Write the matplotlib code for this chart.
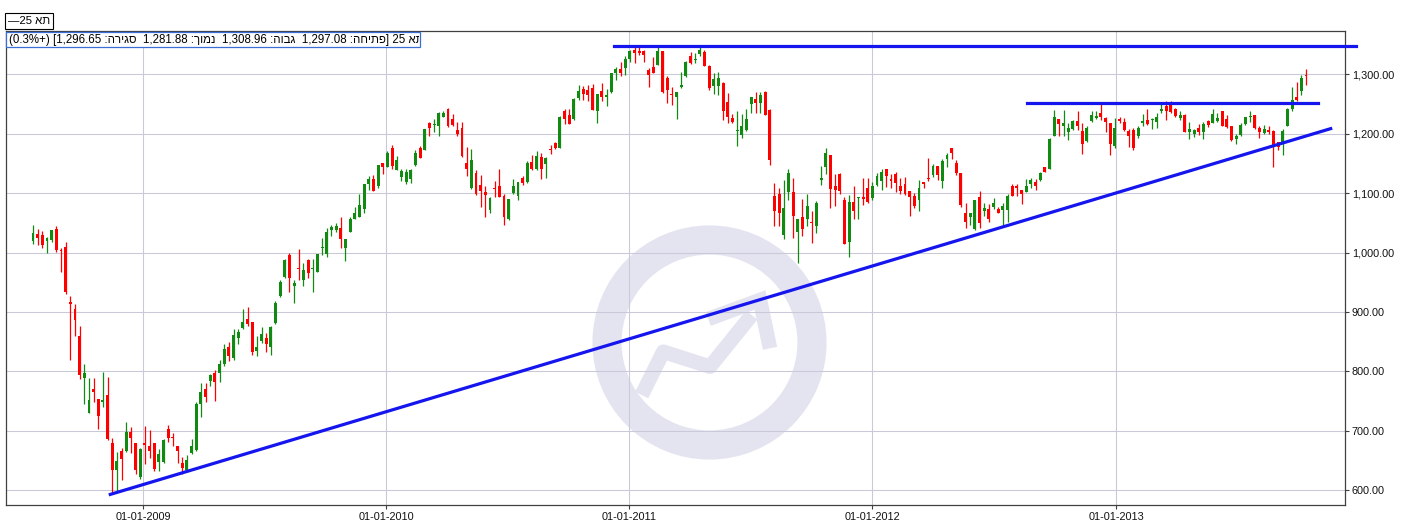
"""
TA-25 weekly candlestick chart, mid 2008 - late 2013,
with a rising support line and two horizontal resistance lines.
"""
import numpy as np
import pandas as pd
import matplotlib
matplotlib.use('Agg')
import matplotlib.pyplot as plt
import matplotlib.dates as mdates
from matplotlib.patches import Ellipse, Rectangle
from matplotlib.lines import Line2D
from matplotlib.ticker import FuncFormatter
from matplotlib.transforms import Bbox, TransformedBbox

plt.rcParams['font.family'] = ['Liberation Sans', 'DejaVu Sans']

# weekly candles (first week starts 2008-07-20)
first_week = '2008-07-20'
opens = [1020, 1031, 1029, 1020, 1021, 1039, 1005, 1009, 916, 905, 859, 789, 730, 770, 753, 748, 760, 680, 634, 666,
         666, 699, 680, 623, 680, 674, 680, 648, 648, 703, 690, 675, 646, 634, 663, 668, 745, 770, 784, 798,
         797, 812, 842, 822, 857, 873, 888, 883, 834, 851, 856, 841, 881, 927, 959, 996, 944, 973, 954, 987,
         972, 968, 1008, 997, 1038, 1038, 1041, 1008, 1035, 1057, 1060, 1073, 1115, 1124, 1112, 1151, 1144, 1175, 1139, 1127,
         1119, 1123, 1147, 1175, 1173, 1217, 1215, 1213, 1228, 1241, 1224, 1206, 1210, 1151, 1108, 1133, 1113, 1101, 1072, 1109,
         1111, 1095, 1057, 1100, 1095, 1126, 1119, 1152, 1141, 1161, 1149, 1173, 1184, 1176, 1238, 1231, 1225, 1259, 1274, 1273,
         1277, 1237, 1271, 1261, 1269, 1302, 1308, 1310, 1325, 1341, 1339, 1338, 1306, 1312, 1315, 1339, 1294, 1267, 1261, 1279,
         1297, 1331, 1323, 1334, 1337, 1314, 1280, 1280, 1285, 1253, 1226, 1205, 1197, 1206, 1250, 1258, 1252, 1269, 1240, 1095,
         1099, 1029, 1101, 1101, 1034, 1059, 1056, 1051, 1045, 1122, 1143, 1164, 1111, 1132, 1088, 1018, 1085, 1091, 1094, 1108,
         1091, 1113, 1121, 1141, 1124, 1132, 1111, 1115, 1103, 1095, 1089, 1118, 1125, 1130, 1145, 1121, 1157, 1175, 1151, 1133,
         1066, 1060, 1039, 1094, 1069, 1073, 1077, 1073, 1071, 1072, 1111, 1111, 1105, 1102, 1115, 1119, 1122, 1143, 1141, 1196,
         1224, 1212, 1203, 1208, 1221, 1205, 1187, 1221, 1226, 1235, 1226, 1217, 1179, 1224, 1220, 1205, 1206, 1195, 1218, 1223,
         1222, 1220, 1238, 1247, 1248, 1241, 1226, 1231, 1203, 1200, 1210, 1203, 1221, 1218, 1221, 1237, 1224, 1212, 1191, 1198,
         1216, 1228, 1231, 1209, 1201, 1206, 1205, 1185, 1185, 1213, 1241, 1261, 1272, 1297.08]
highs = [1046, 1040, 1036, 1026, 1038, 1044, 1007, 1017, 927, 914, 876, 813, 789, 789, 753, 799, 790, 688, 664, 672,
         715, 706, 680, 672, 708, 702, 680, 670, 686, 710, 696, 675, 656, 659, 686, 748, 781, 781, 795, 803,
         820, 846, 849, 871, 871, 905, 908, 883, 860, 875, 864, 877, 919, 954, 989, 1000, 954, 1006, 982, 989,
         989, 998, 1024, 1041, 1047, 1050, 1059, 1023, 1060, 1077, 1099, 1115, 1129, 1130, 1147, 1151, 1171, 1181, 1162, 1141,
         1140, 1141, 1173, 1179, 1208, 1219, 1224, 1236, 1237, 1243, 1233, 1220, 1219, 1177, 1174, 1138, 1130, 1112, 1094, 1121,
         1140, 1099, 1090, 1124, 1119, 1129, 1154, 1164, 1171, 1168, 1161, 1181, 1186, 1229, 1241, 1241, 1259, 1281, 1280, 1281,
         1284, 1266, 1285, 1274, 1302, 1312, 1320, 1330, 1341, 1345, 1346, 1341, 1310, 1328, 1348, 1339, 1296, 1278, 1269, 1304,
         1322, 1337, 1335, 1346, 1340, 1315, 1302, 1303, 1287, 1268, 1233, 1237, 1233, 1241, 1261, 1270, 1269, 1272, 1242, 1116,
         1108, 1122, 1140, 1125, 1057, 1090, 1098, 1069, 1087, 1145, 1176, 1164, 1132, 1133, 1094, 1096, 1112, 1094, 1126, 1126,
         1118, 1134, 1141, 1141, 1132, 1135, 1126, 1127, 1104, 1100, 1122, 1119, 1159, 1148, 1145, 1157, 1167, 1176, 1155, 1133,
         1084, 1067, 1089, 1103, 1084, 1082, 1091, 1077, 1084, 1098, 1115, 1115, 1105, 1123, 1126, 1123, 1136, 1144, 1193, 1240,
         1224, 1240, 1218, 1223, 1237, 1217, 1213, 1238, 1238, 1249, 1227, 1217, 1226, 1227, 1226, 1207, 1209, 1213, 1233, 1242,
         1226, 1235, 1250, 1254, 1254, 1243, 1238, 1232, 1220, 1207, 1216, 1220, 1223, 1241, 1234, 1238, 1231, 1213, 1199, 1217,
         1228, 1238, 1231, 1213, 1214, 1213, 1206, 1186, 1207, 1243, 1279, 1286, 1299, 1308.96]
lows = [1015, 1012, 1008, 1000, 1018, 1001, 968, 931, 820, 859, 788, 745, 730, 748, 703, 740, 685, 595, 597, 617,
        664, 663, 628, 620, 645, 654, 633, 632, 647, 682, 674, 647, 628, 631, 661, 667, 723, 749, 776, 750,
        782, 809, 817, 819, 846, 872, 876, 828, 826, 848, 833, 828, 880, 926, 957, 933, 915, 954, 943, 957,
        933, 967, 995, 993, 1027, 1035, 1008, 985, 1034, 1056, 1059, 1067, 1105, 1104, 1109, 1132, 1143, 1141, 1138, 1121,
        1115, 1116, 1146, 1158, 1172, 1196, 1203, 1196, 1228, 1211, 1213, 1195, 1160, 1129, 1107, 1097, 1077, 1060, 1067, 1094,
        1093, 1046, 1054, 1099, 1088, 1114, 1117, 1139, 1138, 1123, 1126, 1165, 1174, 1175, 1216, 1216, 1223, 1256, 1256, 1255,
        1239, 1218, 1255, 1246, 1268, 1290, 1297, 1299, 1321, 1319, 1332, 1321, 1279, 1301, 1315, 1268, 1251, 1248, 1225, 1277,
        1295, 1316, 1319, 1331, 1313, 1273, 1266, 1265, 1223, 1218, 1217, 1179, 1192, 1205, 1234, 1234, 1234, 1231, 1147, 1045,
        1045, 1022, 1088, 1025, 982, 1027, 1044, 1016, 1033, 1113, 1132, 1074, 1079, 1099, 1014, 993, 1057, 1057, 1080, 1083,
        1089, 1112, 1105, 1110, 1108, 1102, 1098, 1097, 1062, 1074, 1070, 1108, 1121, 1127, 1122, 1108, 1143, 1157, 1130, 1076,
        1041, 1046, 1037, 1041, 1061, 1051, 1073, 1066, 1043, 1052, 1095, 1095, 1081, 1101, 1108, 1105, 1120, 1135, 1140, 1195,
        1195, 1196, 1189, 1206, 1206, 1166, 1186, 1220, 1224, 1223, 1203, 1164, 1175, 1217, 1205, 1178, 1172, 1193, 1213, 1214,
        1207, 1210, 1234, 1223, 1235, 1228, 1223, 1202, 1190, 1194, 1198, 1190, 1211, 1217, 1220, 1212, 1209, 1188, 1182, 1196,
        1214, 1220, 1207, 1193, 1200, 1200, 1144, 1172, 1164, 1212, 1238, 1255, 1265, 1281.88]
closes = [1032, 1025, 1013, 1025, 1038, 1005, 1002, 933, 913, 886, 794, 798, 752, 765, 725, 752, 686, 634, 650, 653,
          699, 688, 635, 670, 677, 667, 636, 662, 685, 688, 689, 667, 638, 651, 675, 745, 766, 757, 794, 782,
          813, 838, 826, 861, 866, 883, 879, 832, 842, 863, 847, 874, 915, 950, 987, 957, 949, 972, 971, 965,
          973, 997, 1009, 1034, 1043, 1045, 1022, 1023, 1056, 1067, 1080, 1115, 1124, 1104, 1147, 1144, 1168, 1145, 1155, 1137,
          1135, 1138, 1167, 1159, 1207, 1209, 1216, 1234, 1235, 1213, 1215, 1200, 1163, 1141, 1155, 1099, 1104, 1097, 1092, 1106,
          1094, 1060, 1090, 1112, 1119, 1116, 1151, 1140, 1163, 1140, 1159, 1172, 1175, 1227, 1224, 1216, 1258, 1272, 1267, 1265,
          1239, 1266, 1262, 1264, 1301, 1308, 1302, 1326, 1338, 1335, 1336, 1332, 1299, 1302, 1338, 1270, 1273, 1264, 1269, 1281,
          1321, 1318, 1326, 1341, 1314, 1276, 1291, 1294, 1238, 1228, 1219, 1206, 1212, 1224, 1261, 1252, 1265, 1231, 1155, 1069,
          1066, 1074, 1133, 1062, 1057, 1039, 1078, 1049, 1084, 1125, 1168, 1106, 1105, 1103, 1015, 1085, 1070, 1093, 1090, 1085,
          1112, 1129, 1136, 1129, 1121, 1117, 1103, 1098, 1093, 1079, 1109, 1115, 1123, 1145, 1130, 1154, 1164, 1168, 1134, 1080,
          1051, 1066, 1089, 1049, 1075, 1056, 1084, 1067, 1079, 1095, 1095, 1108, 1099, 1111, 1122, 1112, 1133, 1136, 1190, 1227,
          1216, 1217, 1210, 1221, 1212, 1182, 1210, 1231, 1230, 1228, 1220, 1182, 1210, 1221, 1206, 1196, 1175, 1210, 1221, 1216,
          1224, 1227, 1242, 1238, 1236, 1230, 1231, 1203, 1207, 1206, 1202, 1216, 1214, 1233, 1226, 1213, 1211, 1189, 1196, 1215,
          1227, 1230, 1209, 1203, 1207, 1202, 1179, 1178, 1205, 1241, 1256, 1257, 1293, 1296.65]

# drawn trend lines
support_dates = ['2008-11-13', '2013-11-19']
support_values = [593.4, 1208.2]
top_dates = ['2010-12-09', '2013-12-27']
top_values = [1347, 1347]
neck_dates = ['2012-08-20', '2013-10-31']
neck_values = [1251, 1251]

name = 'תא'  # ta-25


def vis(s):
    # matplotlib has no bidi, so hebrew words go in visual order
    return s[::-1]


W, H = 1421, 521
GREEN = '#118a11'
RED = '#ff0000'
BLUE = '#1515ee'
MARK = '#e4e4f1'


def fx(px):
    return px / W


def fy(py):
    return 1 - py / H


fig = plt.figure(figsize=(W / 100, H / 100), dpi=100)
ax = fig.add_axes([fx(5.7), fy(505), (1345 - 5.7) / W, (505 - 31) / H])

# background logo
ring = Ellipse((fx(709.5), fy(342.5)), 2 * 102.5 / W, 2 * 102.5 / H, fill=False,
               lw=21, ec=MARK, transform=fig.transFigure, zorder=0.3)
ax.add_artist(ring)
zig = Line2D([fx(641.7), fx(663.3), fx(710), fx(751.7)], [fy(395), fy(351.7), fy(366.7), fy(315)],
             lw=10.5, color=MARK, solid_joinstyle='round', solid_capstyle='butt',
             transform=fig.transFigure, zorder=0.3)
ax.add_artist(zig)
head = Line2D([fx(708.3), fx(760), fx(770)], [fy(319), fy(300), fy(348.3)],
              lw=10.5, color=MARK, solid_joinstyle='miter', solid_capstyle='butt',
              transform=fig.transFigure, zorder=0.3)
ax.add_artist(head)

# candles
dates = pd.date_range(first_week, periods=len(closes), freq='7D')
x = mdates.date2num(dates)
o = np.array(opens, dtype=float)
c = np.array(closes, dtype=float)
up = c >= o
colors = np.where(up, GREEN, RED)
ax.vlines(x, lows, highs, colors=colors, lw=0.9, zorder=2)
ax.bar(x, np.maximum(np.abs(c - o), 1.6), bottom=np.minimum(o, c), width=4.4,
       color=colors, linewidth=0, zorder=3)

# trend lines
ax.plot(pd.to_datetime(support_dates), support_values, color=BLUE, lw=2.3, zorder=4)
ax.plot(pd.to_datetime(neck_dates), neck_values, color=BLUE, lw=2.3, zorder=4)
ax.plot(pd.to_datetime(top_dates), top_values, color=BLUE, lw=2.3, zorder=4, clip_on=False)

ax.set_xlim(pd.Timestamp('2008-06-09'), pd.Timestamp('2013-12-10 12:00'))
ax.set_ylim(575.6, 1372.3)

ax.xaxis.set_major_locator(mdates.YearLocator())
ax.xaxis.set_major_formatter(mdates.DateFormatter('%d-%m-%Y'))
ax.yaxis.tick_right()
ax.set_yticks(range(600, 1301, 100))
ax.yaxis.set_major_formatter(FuncFormatter(lambda v, p: f'{v:,.2f}'))
ax.tick_params(axis='both', direction='out', length=3, width=0.8, color='#404040',
               labelsize=7.8, pad=2, labelcolor='#111111')
ax.set_axisbelow(True)
ax.grid(True, color='#c9c9da', lw=0.75)
for s in ax.spines.values():
    s.set_color('#404040')
    s.set_linewidth(0.9)

# header box with last candle values
last = len(closes) - 1
pct = (closes[last] / closes[last - 1] - 1) * 100
header = (f'({pct:.1f}%+) [{closes[last]:,.2f} :' + vis('סגירה') +
          f'  {lows[last]:,.2f} :' + vis('נמוך') +
          f'  {highs[last]:,.2f} :' + vis('גבוה') +
          f'  {opens[last]:,.2f} :' + vis('פתיחה') + '] 25 ' + vis(name))
box = Rectangle((fx(5.5), fy(47)), fx(420) - fx(5.5), fy(32) - fy(47), transform=fig.transFigure,
                fc='white', ec='#3a6fd8', lw=0.9, zorder=5)
fig.add_artist(box)
t = fig.text(fx(9), fy(39.5), header, fontsize=8.3, va='center', ha='left', zorder=6)
t.set_clip_box(TransformedBbox(Bbox.from_extents(fx(5.5), fy(47), fx(419), fy(32)), fig.transFigure))
t.set_clip_on(True)

# legend box
fig.text(fx(8), fy(21), '\u201425 ' + vis(name), fontsize=8.2, va='center', ha='left',
         bbox=dict(boxstyle='square,pad=0.25', fc='white', ec='black', lw=0.8))

fig.savefig('out.png', dpi=100)
